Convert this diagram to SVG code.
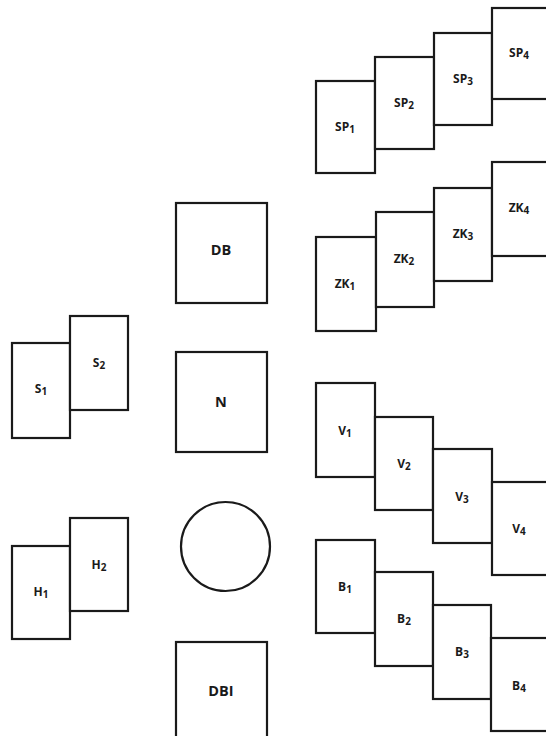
<svg xmlns="http://www.w3.org/2000/svg" width="546" height="736" viewBox="0 0 546 736">
<style>
rect,circle{fill:#fff;stroke:#1a1a1a;stroke-width:2.2}
text{font-family:"Open Sans","Liberation Sans",sans-serif;font-weight:700;fill:#1a1a1a;text-anchor:middle}
.s{font-size:12px}
.b{font-size:14.5px}
.sub{font-size:10px}
</style>
<rect x="0" y="0" width="546" height="736" style="fill:#fff;stroke:none"/>
<g id="SP1"><rect x="316" y="81" width="59" height="92"/><text class="s" x="345" y="131">SP<tspan class="sub" dy="2">1</tspan></text></g>
<g id="SP2"><rect x="375" y="57" width="59" height="92"/><text class="s" x="404" y="107">SP<tspan class="sub" dy="2">2</tspan></text></g>
<g id="SP3"><rect x="434" y="33" width="58" height="92"/><text class="s" x="463" y="83">SP<tspan class="sub" dy="2">3</tspan></text></g>
<g id="SP4"><rect x="492" y="8" width="60" height="91"/><text class="s" x="519" y="57">SP<tspan class="sub" dy="2">4</tspan></text></g>
<g id="ZK1"><rect x="316" y="237" width="60" height="94"/><text class="s" x="345" y="288">ZK<tspan class="sub" dy="2">1</tspan></text></g>
<g id="ZK2"><rect x="376" y="212" width="58" height="95"/><text class="s" x="404" y="263">ZK<tspan class="sub" dy="2">2</tspan></text></g>
<g id="ZK3"><rect x="434" y="188" width="58" height="93"/><text class="s" x="463" y="238">ZK<tspan class="sub" dy="2">3</tspan></text></g>
<g id="ZK4"><rect x="492" y="162" width="60" height="94"/><text class="s" x="519" y="212">ZK<tspan class="sub" dy="2">4</tspan></text></g>
<g id="V1"><rect x="316" y="383" width="59" height="94"/><text class="s" x="345" y="435">V<tspan class="sub" dy="2">1</tspan></text></g>
<g id="V2"><rect x="375" y="417" width="58" height="93"/><text class="s" x="404" y="468">V<tspan class="sub" dy="2">2</tspan></text></g>
<g id="V3"><rect x="433" y="449" width="59" height="94"/><text class="s" x="462" y="501">V<tspan class="sub" dy="2">3</tspan></text></g>
<g id="V4"><rect x="492" y="482" width="60" height="93"/><text class="s" x="519" y="533">V<tspan class="sub" dy="2">4</tspan></text></g>
<g id="B1"><rect x="316" y="540" width="59" height="93"/><text class="s" x="345" y="591">B<tspan class="sub" dy="2">1</tspan></text></g>
<g id="B2"><rect x="375" y="572" width="58" height="94"/><text class="s" x="404" y="623">B<tspan class="sub" dy="2">2</tspan></text></g>
<g id="B3"><rect x="433" y="605" width="58" height="94"/><text class="s" x="462" y="656">B<tspan class="sub" dy="2">3</tspan></text></g>
<g id="B4"><rect x="491" y="638" width="61" height="93"/><text class="s" x="519" y="690">B<tspan class="sub" dy="2">4</tspan></text></g>
<g id="S1"><rect x="12" y="343" width="58" height="95"/><text class="s" x="41" y="393">S<tspan class="sub" dy="2">1</tspan></text></g>
<g id="S2"><rect x="70" y="316" width="58" height="94"/><text class="s" x="99" y="367">S<tspan class="sub" dy="2">2</tspan></text></g>
<g id="H1"><rect x="12" y="546" width="58" height="93"/><text class="s" x="41" y="596">H<tspan class="sub" dy="2">1</tspan></text></g>
<g id="H2"><rect x="70" y="518" width="58" height="93"/><text class="s" x="99" y="569">H<tspan class="sub" dy="2">2</tspan></text></g>
<g id="DB"><rect x="176" y="203" width="91" height="100"/><text class="b" x="221" y="255">DB</text></g>
<g id="N"><rect x="176" y="352" width="91" height="100"/><text class="b" x="221" y="407">N</text></g>
<g id="circle"><circle cx="225.5" cy="546.5" r="44.5"/></g>
<g id="DBI"><rect x="176" y="642" width="91" height="110"/><text class="b" x="221" y="696">DBI</text></g>
<g id="connectors"></g>
</svg>
